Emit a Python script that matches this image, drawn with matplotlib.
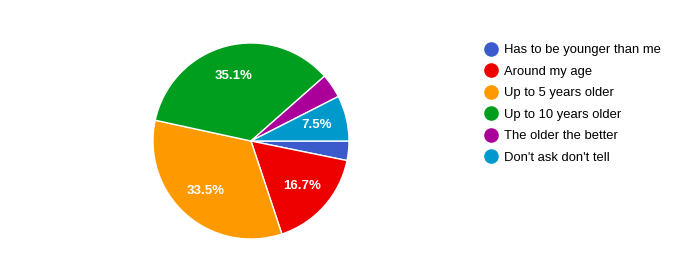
import matplotlib.pyplot as plt
from matplotlib.lines import Line2D

plt.rcParams['font.family'] = ['Liberation Sans', 'DejaVu Sans']

# answers and their share (%)
labels = ['Has to be younger than me', 'Around my age', 'Up to 5 years older',
          'Up to 10 years older', 'The older the better', "Don't ask don't tell"]
shares = [3.2, 16.7, 33.5, 35.1, 4.0, 7.5]
colors = ['#3b5bcd', '#ee0000', '#ff9900', '#009e1e', '#aa0099', '#0099cc']


def pct(p):
    # small slices get no label, like the original
    return '%.1f%%' % p if p >= 5 else ''


fig = plt.figure(figsize=(7, 2.71), dpi=100)
ax = fig.add_axes([0.2171, 0.1144, 0.2829, 0.7306])
wedges, _, autotexts = ax.pie(shares, colors=colors, startangle=0, counterclock=False,
                              autopct=pct, pctdistance=0.69,
                              wedgeprops=dict(edgecolor='white', linewidth=1))
for t in autotexts:
    t.set_color('white')
    t.set_fontsize(9.5)
    t.set_fontweight('bold')
ax.set_xlim(-1.01, 1.01)
ax.set_ylim(-1.01, 1.01)
ax.set_aspect('equal')

handles = [Line2D([], [], marker='o', linestyle='', markersize=9.5,
                  markerfacecolor=c, markeredgecolor=c) for c in colors]
fig.legend(handles, labels, loc='upper left', bbox_to_anchor=(0.694, 0.837),
           frameon=False, fontsize=9.4, handlelength=0.8, handletextpad=0.6,
           labelspacing=0.72, borderaxespad=0, borderpad=0)

fig.savefig('out.png', dpi=100)
